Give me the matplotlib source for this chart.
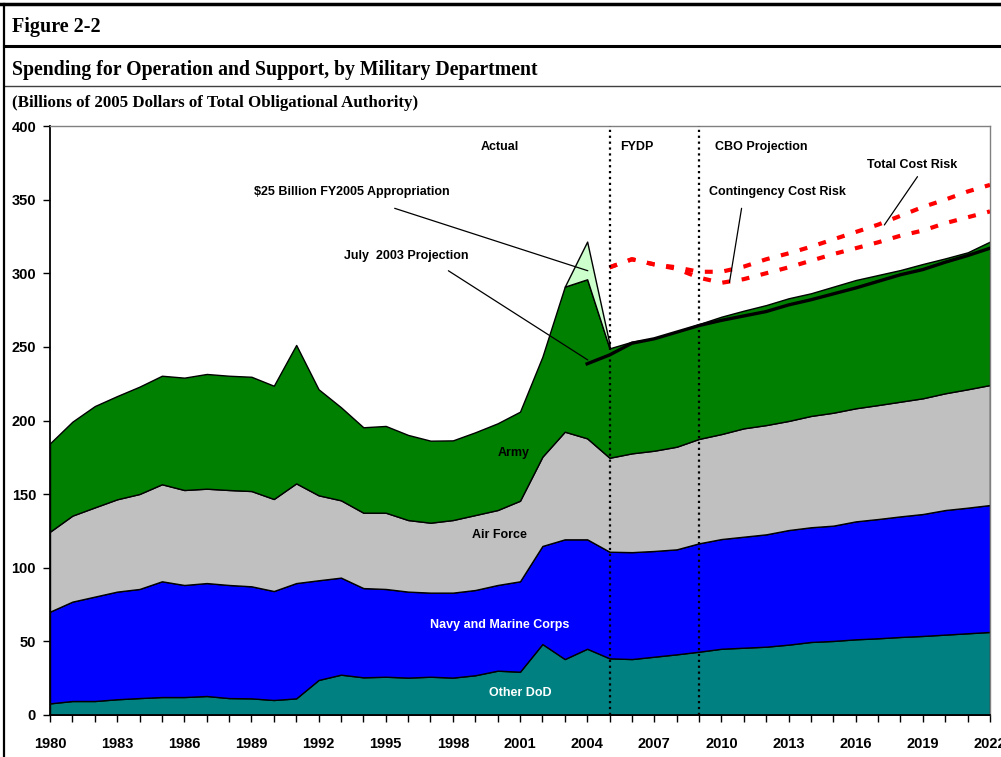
import matplotlib
matplotlib.use('Agg')
import matplotlib.pyplot as plt
from matplotlib.lines import Line2D
import numpy as np

# Fiscal years shown on the chart
years = np.arange(1980, 2023)

# Cumulative tops of each stacked band (billions of 2005 dollars)
other_dod = [7.9, 9.5, 9.5, 10.7, 11.5, 12.2, 12.2, 12.9, 11.5, 11.3, 10.2, 11.3, 23.8, 27.4,
             25.6, 26.0, 25.4, 26.0, 25.4, 27.0, 30.1, 29.4, 48.2, 38.0, 45.0, 38.5, 38.0, 39.6,
             41.2, 43.0, 45.0, 45.7, 46.4, 47.8, 49.6, 50.3, 51.4, 52.1, 53.0, 53.7, 54.6, 55.5, 56.4]
navy_top = [70.2, 77.0, 80.4, 83.8, 85.6, 90.8, 88.3, 89.6, 88.3, 87.4, 84.2, 89.6, 91.5, 93.3,
            86.2, 85.6, 83.8, 83.1, 83.1, 84.9, 88.3, 90.8, 114.8, 119.3, 119.3, 110.9, 110.6, 111.4,
            112.5, 116.6, 119.5, 121.1, 122.7, 125.6, 127.5, 128.6, 131.5, 133.1, 134.9, 136.5, 139.2, 140.8, 142.6]
air_force_top = [124.5, 135.4, 141.0, 146.5, 150.1, 156.7, 152.8, 153.7, 152.8, 152.1, 146.7, 157.3, 149.2, 145.8,
                 137.4, 137.4, 132.4, 130.6, 132.4, 135.8, 139.2, 145.5, 175.4, 192.4, 187.9, 174.7, 177.7, 179.5,
                 182.2, 187.5, 190.8, 194.7, 196.9, 199.7, 203.1, 205.3, 208.3, 210.5, 212.8, 215.1, 218.5, 221.2, 224.1]
army_top = [184.5, 199.2, 209.8, 216.6, 223.0, 230.4, 229.1, 231.6, 230.4, 229.7, 223.6, 251.3, 221.2, 209.0,
            195.4, 196.3, 190.2, 186.3, 186.5, 192.0, 198.1, 206.0, 243.3, 290.9, 295.9, 249.0, 253.5, 255.8,
            260.3, 265.5, 270.5, 274.6, 278.4, 283.0, 286.4, 290.9, 295.4, 298.8, 302.2, 306.3, 310.1, 314.2, 321.5]

# $25 billion FY2005 appropriation wedge
approp_years = [2003, 2004, 2005]
approp_top = [290.9, 321.5, 252.0]

# July 2003 projection
proj_years = np.arange(2004, 2023)
proj_2003 = [238.5, 244.5, 252.5, 255.5, 260.0, 264.5, 268.0, 271.0, 274.0, 278.5, 282.0, 286.0,
             290.0, 294.5, 299.0, 302.5, 307.5, 312.0, 317.0]

# Cost risk lines
risk_years = np.arange(2005, 2023)
total_cost_risk = [304.0, 309.5, 306.0, 304.0, 301.0, 301.0, 304.5, 309.5, 313.5, 318.0, 323.0,
                   328.0, 333.0, 339.0, 345.0, 350.0, 355.5, 360.0]
contingency_risk = [304.0, 309.5, 306.0, 303.0, 297.0, 293.5, 296.0, 300.0, 304.0, 308.5, 313.0,
                    317.0, 321.0, 325.5, 329.0, 334.0, 338.0, 342.0]

plt.rcParams['font.family'] = ['Liberation Sans', 'DejaVu Sans']
plt.rcParams['font.weight'] = 'bold'

fig = plt.figure(figsize=(10.01, 7.57), dpi=100)
ax = fig.add_axes([50 / 1001, 1 - 715 / 757, 940 / 1001, 589 / 757])

# stacked bands
edge = dict(edgecolor='black', linewidth=1.0)
ax.fill_between(years, 0, other_dod, facecolor='#008080', **edge)
ax.fill_between(years, other_dod, navy_top, facecolor='#0000FF', **edge)
ax.fill_between(years, navy_top, air_force_top, facecolor='#C0C0C0', **edge)
ax.fill_between(years, air_force_top, army_top, facecolor='#008000', **edge)
ax.fill_between(approp_years, army_top[23:26], approp_top, facecolor='#CCFFCC', **edge)

# projection lines
ax.plot(proj_years, proj_2003, color='black', lw=2.4, zorder=4)
ax.plot(risk_years, total_cost_risk, color='#FF0000', lw=3, ls=(0, (1.9, 2.8)), zorder=4)
ax.plot(risk_years, contingency_risk, color='#FF0000', lw=3, ls=(0, (1.9, 2.8)), zorder=4)

# period dividers
for yr in [2005, 2009]:
    ax.plot([yr, yr], [0, 400], color='black', lw=1.6, ls=':', zorder=5)

ax.set_xlim(1980, 2022)
ax.set_ylim(0, 400)
ax.set_yticks(range(0, 401, 50))
ax.set_xticks(range(1980, 2023, 3))
ax.set_xticks(range(1980, 2023), minor=True)
ax.tick_params(axis='y', length=5, width=1, pad=5, labelsize=10.5)
ax.tick_params(axis='x', which='both', length=5, width=1, pad=11, labelsize=10.5)
for lbl in ax.get_xticklabels() + ax.get_yticklabels():
    lbl.set_fontweight('bold')
ax.spines['left'].set_linewidth(1.3)
ax.spines['bottom'].set_linewidth(1.3)
for s in ['top', 'right']:
    ax.spines[s].set_color('#808080')
    ax.spines[s].set_linewidth(1)

# section headings and labels
fs = 9
ax.text(2000.1, 386, 'Actual', ha='center', va='center', fontsize=fs, fontweight='bold')
ax.text(2006.2, 386, 'FYDP', ha='center', va='center', fontsize=fs, fontweight='bold')
ax.text(2011.8, 386, 'CBO Projection', ha='center', va='center', fontsize=fs, fontweight='bold')
ax.text(1993.5, 355, '$25 Billion FY2005 Appropriation', ha='center', va='center', fontsize=fs, fontweight='bold')
ax.text(1995.9, 312, 'July  2003 Projection', ha='center', va='center', fontsize=fs, fontweight='bold')
ax.text(2012.5, 355, 'Contingency Cost Risk', ha='center', va='center', fontsize=fs, fontweight='bold')
ax.text(2018.5, 373.5, 'Total Cost Risk', ha='center', va='center', fontsize=fs, fontweight='bold')
ax.text(2000.7, 178, 'Army', ha='center', va='center', fontsize=fs, fontweight='bold')
ax.text(2000.1, 122, 'Air Force', ha='center', va='center', fontsize=fs, fontweight='bold')
ax.text(2000.1, 61, 'Navy and Marine Corps', ha='center', va='center', fontsize=fs,
        fontweight='bold', color='white')
ax.text(2001.0, 15, 'Other DoD', ha='center', va='center', fontsize=fs, fontweight='bold', color='white')

leader = dict(arrowstyle='-', lw=0.9, color='black', shrinkA=0, shrinkB=0)
ax.annotate('', xy=(2004.03, 301.7), xytext=(1995.4, 344.1), arrowprops=leader, zorder=6)
ax.annotate('', xy=(2004.03, 241.1), xytext=(1997.8, 301.7), arrowprops=leader, zorder=6)
ax.annotate('', xy=(2010.36, 293.8), xytext=(2010.9, 344.1), arrowprops=leader, zorder=6)
ax.annotate('', xy=(2017.28, 332.8), xytext=(2018.76, 365.6), arrowprops=leader, zorder=6)

# figure header
serif = ['Liberation Serif', 'DejaVu Serif']
fig.text(12 / 1001, 1 - 27 / 757, 'Figure 2-2', family=serif, fontweight='bold', fontsize=14.5, va='center')
fig.text(12 / 1001, 1 - 70 / 757, 'Spending for Operation and Support, by Military Department',
         family=serif, fontweight='bold', fontsize=14.2, va='center')
fig.text(12 / 1001, 1 - 103 / 757, '(Billions of 2005 Dollars of Total Obligational Authority)',
         family=serif, fontweight='bold', fontsize=12.2, va='center')

fig.add_artist(Line2D([0, 1], [1 - 4 / 757, 1 - 4 / 757], color='black', lw=2.5, transform=fig.transFigure))
fig.add_artist(Line2D([4 / 1001, 1], [1 - 46 / 757, 1 - 46 / 757], color='black', lw=2.2, transform=fig.transFigure))
fig.add_artist(Line2D([4 / 1001, 1], [1 - 86 / 757, 1 - 86 / 757], color='#404040', lw=1.0, transform=fig.transFigure))
fig.add_artist(Line2D([4 / 1001, 4 / 1001], [0, 1 - 4 / 757], color='black', lw=1.6, transform=fig.transFigure))

fig.savefig('out.png', dpi=100)
